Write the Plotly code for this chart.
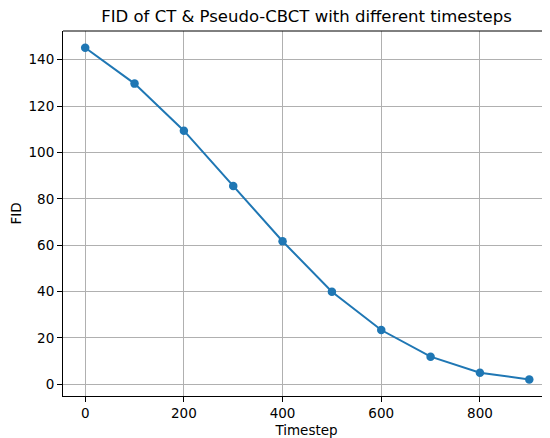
import plotly.graph_objects as go

timesteps = [0, 100, 200, 300, 400, 500, 600, 700, 800, 900]
fid = [145.2, 129.7, 109.4, 85.5, 61.7, 39.9, 23.4, 11.9, 5.0, 2.1]
x_ticks = [0, 200, 400, 600, 800]
y_ticks = [0, 20, 40, 60, 80, 100, 120, 140]

FONT = "DejaVu Sans"
# page body has an 8px default margin; the figure is sized to compensate
W, H = 542, 430

fig = go.Figure(go.Scatter(
    x=timesteps, y=fid, mode="lines+markers",
    line=dict(color="#1f77b4", width=2),
    marker=dict(color="#1f77b4", size=8.5),
    showlegend=False,
))

axis_common = dict(
    showgrid=True, gridcolor="#b0b0b0", gridwidth=1,
    showline=True, linecolor="black", linewidth=1,
    ticks="outside", ticklen=5, tickcolor="black", tickwidth=1,
    zeroline=False, automargin=False,
    tickfont=dict(family=FONT, size=13.5, color="black"),
)

fig.update_layout(
    width=W, height=H,
    margin=dict(l=55, r=0, t=23, b=42),
    paper_bgcolor="white", plot_bgcolor="white",
    font=dict(family=FONT, color="black"),
    title=dict(text="FID of CT & Pseudo-CBCT with different timesteps",
               x=0.5, xref="paper", xanchor="center",
               y=1 - 8 / H, yanchor="middle",
               font=dict(family=FONT, size=16.5, color="black")),
    xaxis=dict(range=[-45, 942], tickvals=x_ticks,
               title=dict(text="Timestep", standoff=5,
                          font=dict(family=FONT, size=13.5, color="black")),
               **axis_common),
    yaxis=dict(range=[-5.06, 152.4], tickvals=y_ticks,
               title=dict(text="FID", standoff=6,
                          font=dict(family=FONT, size=13.5, color="black")),
               **axis_common),
    shapes=[dict(type="line", xref="paper", yref="paper", x0=0, x1=1, y0=1, y1=1,
                 line=dict(color="black", width=1))],
)

fig.write_html("out.html")
